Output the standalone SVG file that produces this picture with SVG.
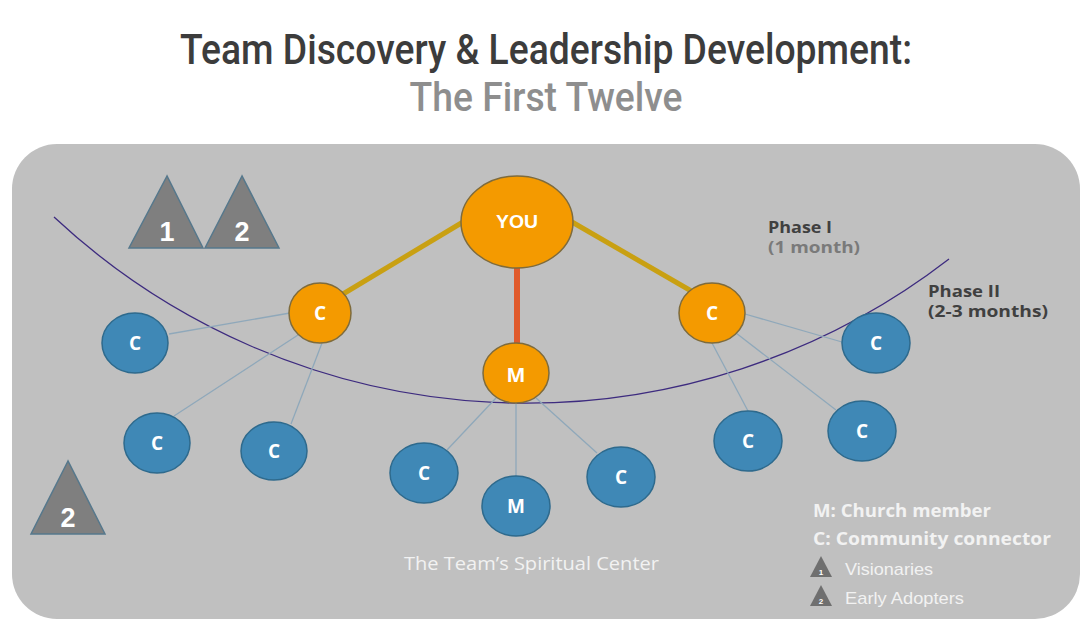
<svg xmlns="http://www.w3.org/2000/svg" width="1085" height="628" viewBox="0 0 1085 628">
<style>
.orange{fill:#F49A00;stroke:#7E6B3C;stroke-width:1.5}
.blue{fill:#3F88B6;stroke:#2E6A8D;stroke-width:1.5}
.lbl{font-family:"Open Sans","Liberation Sans",sans-serif;font-weight:700;fill:#FFFFFF;text-anchor:middle}
.tri{fill:#7F7F7F;stroke:#56788C;stroke-width:1.5}
.num{font-family:"Liberation Sans",Arial,sans-serif;font-weight:700;fill:#FFFFFF;text-anchor:middle}
.thin{stroke:#8FA8BA;stroke-width:1.3;fill:none}
.leg{font-family:"Open Sans","Liberation Sans",sans-serif;font-weight:700;fill:#F2F2F2;font-size:17px}
.leg2{font-family:"Liberation Sans",Arial,sans-serif;fill:#F2F2F2;font-size:17px}
.phase{font-family:"Open Sans","Liberation Sans",sans-serif;font-weight:700;font-size:16px}
</style>
<rect width="1085" height="628" fill="#FFFFFF"/>
<g id="title">
<text x="546" y="64" text-anchor="middle" font-family="Roboto,'Liberation Sans',sans-serif" font-weight="500" font-size="42" fill="#3C3C3C" textLength="732" lengthAdjust="spacingAndGlyphs">Team Discovery &amp; Leadership Development:</text>
<text x="546" y="111" text-anchor="middle" font-family="Roboto,'Liberation Sans',sans-serif" font-weight="500" font-size="41" fill="#8E8E8E" textLength="273" lengthAdjust="spacingAndGlyphs">The First Twelve</text>
</g>
<rect id="panel" x="12" y="144" width="1068" height="475" rx="45" ry="45" fill="#C0C0C0"/>
<g id="phase-arc">
<path d="M54 217 A692 692 0 0 0 949 259" fill="none" stroke="#3D2B7F" stroke-width="1.3"/>
</g>
<g id="connectors">
<line x1="463" y1="222" x2="343" y2="294" stroke="#C9A012" stroke-width="5"/>
<line x1="572" y1="222" x2="693" y2="292" stroke="#C9A012" stroke-width="5"/>
<line x1="517" y1="268" x2="517" y2="344" stroke="#E05A2B" stroke-width="6"/>
<line class="thin" x1="290" y1="313" x2="169" y2="334"/>
<line class="thin" x1="298" y1="335" x2="174" y2="416"/>
<line class="thin" x1="322" y1="343" x2="291" y2="424"/>
<line class="thin" x1="745" y1="314" x2="842" y2="342"/>
<line class="thin" x1="736" y1="333" x2="836" y2="410"/>
<line class="thin" x1="712" y1="343" x2="748" y2="411"/>
<line class="thin" x1="496" y1="398" x2="447" y2="450"/>
<line class="thin" x1="516" y1="403" x2="516" y2="476"/>
<line class="thin" x1="536" y1="398" x2="597" y2="453"/>
</g>
<g id="you"><ellipse class="orange" cx="517" cy="222" rx="56" ry="46"/><text x="517" y="228" font-size="18" fill="#FFFFFF" text-anchor="middle" font-family="'Liberation Sans',Arial,sans-serif" font-weight="700" textLength="42" lengthAdjust="spacingAndGlyphs">YOU</text></g>
<g id="m-orange"><ellipse class="orange" cx="516" cy="373" rx="33" ry="30"/><text class="lbl" x="516" y="382" font-size="20">M</text></g>
<g id="c-orange-left"><ellipse class="orange" cx="320" cy="313" rx="31" ry="30"/><text class="lbl" x="320" y="320" font-size="19">C</text></g>
<g id="c-orange-right"><ellipse class="orange" cx="712" cy="313" rx="33" ry="30"/><text class="lbl" x="712" y="320" font-size="19">C</text></g>
<g id="c-blue-1"><ellipse class="blue" cx="135" cy="343" rx="33" ry="30"/><text class="lbl" x="135" y="350" font-size="19">C</text></g>
<g id="c-blue-2"><ellipse class="blue" cx="157" cy="443" rx="33" ry="30"/><text class="lbl" x="157" y="450" font-size="19">C</text></g>
<g id="c-blue-3"><ellipse class="blue" cx="274" cy="451" rx="33" ry="29"/><text class="lbl" x="274" y="458" font-size="19">C</text></g>
<g id="c-blue-4"><ellipse class="blue" cx="424" cy="473" rx="34" ry="30"/><text class="lbl" x="424" y="480" font-size="19">C</text></g>
<g id="m-blue"><ellipse class="blue" cx="516" cy="506" rx="34" ry="30"/><text class="lbl" x="516" y="513" font-size="19">M</text></g>
<g id="c-blue-5"><ellipse class="blue" cx="621" cy="477" rx="34" ry="30"/><text class="lbl" x="621" y="484" font-size="19">C</text></g>
<g id="c-blue-6"><ellipse class="blue" cx="748" cy="441" rx="34" ry="30"/><text class="lbl" x="748" y="448" font-size="19">C</text></g>
<g id="c-blue-7"><ellipse class="blue" cx="862" cy="431" rx="34" ry="30"/><text class="lbl" x="862" y="438" font-size="19">C</text></g>
<g id="c-blue-8"><ellipse class="blue" cx="876" cy="343" rx="34" ry="30"/><text class="lbl" x="876" y="350" font-size="19">C</text></g>
<g id="tri-1"><polygon class="tri" points="167,176 129,248 203,248"/><text class="num" x="167" y="241" font-size="27">1</text></g>
<g id="tri-2"><polygon class="tri" points="242,176 205,248 279,248"/><text class="num" x="242" y="241" font-size="27">2</text></g>
<g id="tri-3"><polygon class="tri" points="68,461 31,534 105,534"/><text class="num" x="68" y="527" font-size="27">2</text></g>
<g id="phase-labels">
<text class="phase" x="768" y="233" fill="#404040" textLength="64" lengthAdjust="spacingAndGlyphs">Phase I</text>
<text class="phase" x="768" y="253" fill="#7A7A7A" textLength="92" lengthAdjust="spacingAndGlyphs">(1 month)</text>
<text class="phase" x="928" y="297" fill="#404040" textLength="72" lengthAdjust="spacingAndGlyphs">Phase II</text>
<text class="phase" x="928" y="317" fill="#404040" textLength="120" lengthAdjust="spacingAndGlyphs">(2-3 months)</text>
</g>
<text id="center-label" x="404" y="570" font-family="'Open Sans','Liberation Sans',sans-serif" font-size="18" fill="#F2F2F2" textLength="255" lengthAdjust="spacingAndGlyphs">The Team’s Spiritual Center</text>
<g id="legend">
<text class="leg" x="813" y="517" textLength="178" lengthAdjust="spacingAndGlyphs">M: Church member</text>
<text class="leg" x="813" y="545" textLength="238" lengthAdjust="spacingAndGlyphs">C: Community connector</text>
<polygon fill="#6F6F6F" points="821,556 810,577 832,577"/>
<text class="num" x="821" y="575" font-size="8">1</text>
<text class="leg2" x="845" y="575" textLength="88" lengthAdjust="spacingAndGlyphs">Visionaries</text>
<polygon fill="#6F6F6F" points="821,585 810,606 832,606"/>
<text class="num" x="821" y="604" font-size="8">2</text>
<text class="leg2" x="845" y="604" textLength="119" lengthAdjust="spacingAndGlyphs">Early Adopters</text>
</g>
</svg>
